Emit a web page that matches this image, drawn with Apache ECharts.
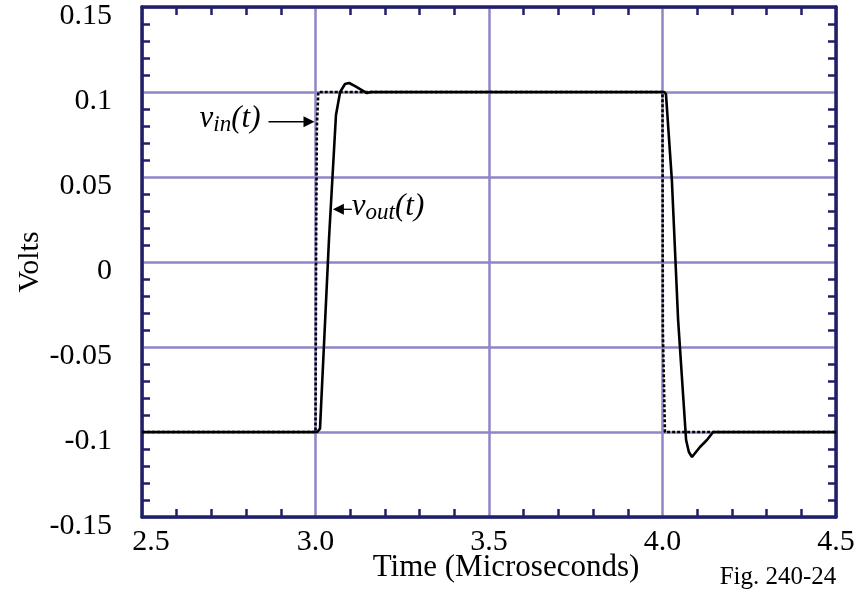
<!DOCTYPE html>
<html><head><meta charset="utf-8">
<script src="https://cdn.jsdelivr.net/npm/echarts@6/dist/echarts.min.js"></script>
<style>html,body{margin:0;padding:0;background:#fff}#c{width:865px;height:592px}</style>
</head><body><div id="c"></div>
<script>
const vinTime  = [2.5, 3.0, 3.002, 3.004, 3.008, 4.0, 4.001, 4.003, 4.007, 4.5];
const vinVolts = [-0.1, -0.1, 0.02, 0.08, 0.1, 0.1, -0.04, -0.06, -0.1, -0.1];
const voutTime  = [2.5, 3.005, 3.013, 3.039, 3.059, 3.071, 3.085, 3.097, 3.114, 3.148, 3.16, 4.005, 4.010, 4.027, 4.045, 4.068, 4.076, 4.085, 4.108, 4.128, 4.146, 4.5];
const voutVolts = [-0.1, -0.1, -0.098, 0.014, 0.0865, 0.1, 0.1047, 0.1053, 0.1035, 0.0994, 0.1, 0.1, 0.0988, 0.0482, -0.0341, -0.1047, -0.1118, -0.1147, -0.1088, -0.1047, -0.1, -0.1];
const xTickLabels = ['2.5', '3.0', '3.5', '4.0', '4.5'];
const yTickLabels = ['-0.15', '-0.1', '-0.05', '0', '0.05', '0.1', '0.15'];

const FONT = 'Liberation Serif';
const frame = '#20206a';
const gridC = '#8e86c6';
const chart = echarts.init(document.getElementById('c'), null, {renderer: 'canvas'});
const minor = {show: true, splitNumber: 5, length: 8, lineStyle: {color: frame, width: 2.5}};
const baseX = {
  type: 'value', min: 2.5, max: 4.5, interval: 0.5,
  axisLine: {show: true, onZero: false, lineStyle: {color: frame, width: 3.5}},
  axisTick: {show: false, inside: true},
  minorTick: minor,
  splitLine: {show: false}
};
const baseY = {
  type: 'value', min: -0.15, max: 0.15, interval: 0.05,
  axisLine: {show: true, onZero: false, lineStyle: {color: frame, width: 3.5}},
  axisTick: {show: false, inside: true},
  minorTick: minor,
  splitLine: {show: false}
};
chart.setOption({
  animation: false,
  grid: {left: 142, right: 29, top: 7, bottom: 75, containLabel: false, outerBoundsMode: 'none'},
  xAxis: [
    Object.assign({}, baseX, {
      position: 'bottom',
      splitLine: {show: true, lineStyle: {color: gridC, width: 2.5}},
      axisLabel: {color: '#000', fontFamily: FONT, fontSize: 30, margin: 10,
        rich: {first: {fontFamily: FONT, fontSize: 30, color: '#000', padding: [0, 0, 0, 18]}},
        formatter: v => {
          const i = Math.round((v - 2.5) / 0.5);
          return i === 0 ? '{first|' + xTickLabels[i] + '}' : xTickLabels[i];
        }}
    }),
    Object.assign({}, baseX, {position: 'top', axisLabel: {show: false}})
  ],
  yAxis: [
    Object.assign({}, baseY, {
      position: 'left',
      splitLine: {show: true, lineStyle: {color: gridC, width: 2.5}},
      axisLabel: {color: '#000', fontFamily: FONT, fontSize: 30, margin: 30,
        verticalAlign: 'top', lineHeight: 18,
        formatter: v => yTickLabels[Math.round((v + 0.15) / 0.05)]}
    }),
    Object.assign({}, baseY, {position: 'right', axisLabel: {show: false}})
  ],
  series: [
    {
      name: 'vout', type: 'line', xAxisIndex: 0, yAxisIndex: 0, symbol: 'none',
      data: voutTime.map((t, i) => [t, voutVolts[i]]),
      lineStyle: {color: '#000', width: 2.6}, z: 3
    },
    {
      name: 'vin', type: 'line', xAxisIndex: 0, yAxisIndex: 0, symbol: 'none',
      data: vinTime.map((t, i) => [t, vinVolts[i]]),
      lineStyle: {color: '#000', width: 2.6, type: [3, 2]}, z: 4
    }
  ]
});

const P = (t, v) => chart.convertToPixel({xAxisIndex: 0, yAxisIndex: 0}, [t, v]);
const pin = P(3.0, 0.0825);
const pout = P(3.05, 0.031);
const rich = {
  v: {fontFamily: FONT, fontStyle: 'italic', fontSize: 31, fill: '#000'},
  s: {fontFamily: FONT, fontStyle: 'italic', fontSize: 23, fill: '#000', padding: [12, 0, 0, 0]}
};
chart.setOption({
  graphic: [
    {type: 'text', style: {text: 'Time (Microseconds)', fontFamily: FONT, fontSize: 31, fill: '#000', x: 506, y: 568, textAlign: 'center', textVerticalAlign: 'middle'}},
    {type: 'text', style: {text: 'Fig. 240-24', fontFamily: FONT, fontSize: 25, fill: '#000', x: 778, y: 577, textAlign: 'center', textVerticalAlign: 'middle'}},
    {type: 'text', rotation: Math.PI / 2, x: 30, y: 262, style: {text: 'Volts', fontFamily: FONT, fontSize: 30, fill: '#000', x: 0, y: 0, textAlign: 'center', textVerticalAlign: 'middle'}},
    // vin annotation
    {type: 'text', style: {text: '{v|v}{s|in}{v|(t)}', rich: rich, x: pin[0] - 55, y: pin[1] - 3, textAlign: 'right', textVerticalAlign: 'middle'}},
    {type: 'line', shape: {x1: pin[0] - 47, y1: pin[1], x2: pin[0] - 10, y2: pin[1]}, style: {stroke: '#000', lineWidth: 1.3}},
    {type: 'polygon', shape: {points: [[pin[0] - 1, pin[1]], [pin[0] - 12, pin[1] - 5.5], [pin[0] - 12, pin[1] + 5.5]]}, style: {fill: '#000'}},
    // vout annotation
    {type: 'polygon', shape: {points: [[pout[0], pout[1]], [pout[0] + 11, pout[1] - 5.5], [pout[0] + 11, pout[1] + 5.5]]}, style: {fill: '#000'}},
    {type: 'line', shape: {x1: pout[0] + 10, y1: pout[1], x2: pout[0] + 19, y2: pout[1]}, style: {stroke: '#000', lineWidth: 1.3}},
    {type: 'text', style: {text: '{v|v}{s|out}{v|(t)}', rich: rich, x: pout[0] + 19, y: pout[1] - 2, textAlign: 'left', textVerticalAlign: 'middle'}}
  ]
});
</script></body></html>
